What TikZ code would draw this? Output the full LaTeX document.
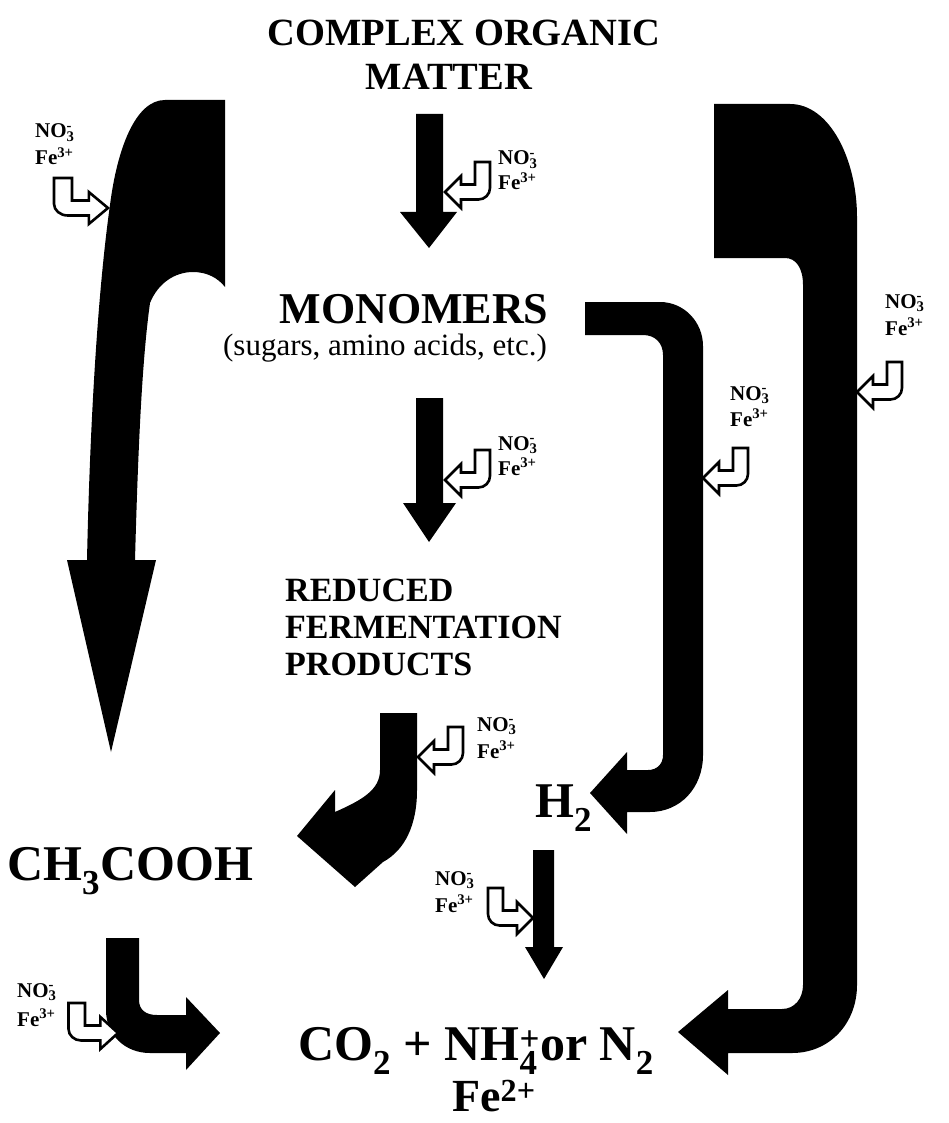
\documentclass[tikz,border=0pt]{standalone}
\usepackage{fontspec}
\setmainfont{Liberation Serif}
\newcommand{\subsup}[2]{\setbox0\hbox{\textsubscript{#1}}\setbox2\hbox{\textsuperscript{#2}}%
  \ifdim\wd0>\wd2 \rlap{\box2}\box0\else\rlap{\box0}\box2\fi}
\newcommand{\nitr}{NO\subsup{3}{-}}
\tikzset{
  blk/.style={fill=black, draw=none},
  hookline/.style={draw=black, line width=2.6pt, fill=white, line join=miter},
  nhook/.pic={
    \draw[hookline] (0,0) -- (16,-16) -- (16,-7.5) -- (30,-7.5) -- (30,-30) -- (45,-30) -- (45,-4)
      .. controls (45,2.3) and (39.8,7.5) .. (33.5,7.5) -- (16,7.5) -- (16,16) -- cycle;
  },
  big/.style={font=\bfseries\fontsize{38.5}{42}\selectfont, inner sep=0pt},
  monof/.style={font=\bfseries\fontsize{44}{48}\selectfont, inner sep=0pt},
  mid/.style={font=\bfseries\fontsize{34}{38}\selectfont, inner sep=0pt},
  huge/.style={font=\bfseries\fontsize{50}{54}\selectfont, inner sep=0pt},
  femid/.style={font=\bfseries\fontsize{46}{50}\selectfont, inner sep=0pt},
  small/.style={font=\bfseries\fontsize{21}{23}\selectfont, inner sep=0pt, anchor=base west},
  paren/.style={font=\fontsize{31}{33}\selectfont, inner sep=0pt}
}
\begin{document}
\begin{tikzpicture}[x=1pt,y=-1pt]
\useasboundingbox (0,0) rectangle (948,1123);

% ---------- text ----------
\node[big, anchor=base] (com) at (464,46) {COMPLEX ORGANIC};
\node[big, anchor=base] (mat) at (449,90) {MATTER};
\node[monof, anchor=base] (mono) at (414,323) {MONOMERS};
\node[paren, anchor=base] (sug) at (385,355) {(sugars, amino acids, etc.)};
\node[mid, anchor=base west] (red1) at (285,601) {REDUCED};
\node[mid, anchor=base west] (red2) at (285,638) {FERMENTATION};
\node[mid, anchor=base west] (red3) at (285,675) {PRODUCTS};
\node[huge, anchor=base west] (ace) at (7,880) {CH\textsubscript{3}COOH};
\node[huge, anchor=base west] (hyd) at (535,817) {H\textsubscript{2}};
\node[huge, anchor=base west] (co2) at (298,1060) {CO\textsubscript{2} + NH\subsup{4}{+}or N\textsubscript{2}};
\node[femid, anchor=base west] (fe) at (452,1111) {Fe\textsuperscript{2+}};

% ---------- big arrows ----------
% left: complex organic matter -> acetate
\fill[blk] (225,100) -- (165,100) .. controls (135,100) and (117,150) .. (110,205)
  .. controls (98,290) and (90,420) .. (87,560) -- (67,560) -- (111,752) -- (156,560) -- (135,560)
  .. controls (138,450) and (142,360) .. (150,303) .. controls (158,283) and (175,272) .. (193,272)
  .. controls (207,272) and (218,278) .. (225,287) -- cycle;
% right: complex organic matter -> CO2
\fill[blk] (714,104) -- (790,104) .. controls (830,104) and (857,160) .. (857,217) -- (857,985)
  .. controls (857,1023) and (830,1053) .. (792,1053) -- (728,1053) -- (728,1075) -- (678,1032)
  -- (728,990) -- (728,1009) -- (782,1009) .. controls (795,1009) and (803,998) .. (803,985)
  -- (803,285) .. controls (803,268) and (796,258) .. (785,258) -- (714,258) -- cycle;
% monomers -> H2
\fill[blk] (585,302) -- (660,302) .. controls (684,302) and (703,322) .. (703,346) -- (703,755)
  .. controls (703,788) and (680,812) .. (650,812) -- (627,812) -- (627,834) -- (590,793)
  -- (627,752) -- (627,770) -- (648,770) .. controls (657,770) and (663,764) .. (663,755)
  -- (663,355) .. controls (663,343) and (655,335) .. (643,335) -- (585,335) -- cycle;
% reduced fermentation products -> acetate
\fill[blk] (380,713) -- (417,713) -- (417,790) .. controls (417,825) and (405,850) .. (383,862)
  -- (355,887) -- (297,836) -- (335,790) -- (335,812)
  .. controls (362,800) and (380,790) .. (380,770) -- cycle;
% acetate -> CO2
\fill[blk] (106,938) -- (139,938) -- (139,1000) .. controls (139,1010) and (146,1015) .. (157,1015)
  -- (186,1015) -- (186,997) -- (220,1033) -- (186,1070) -- (186,1053) -- (150,1053)
  .. controls (125,1053) and (106,1035) .. (106,1010) -- cycle;
% straight arrows
\fill[blk] (416,114) -- (443,114) -- (443,212) -- (457,212) -- (429,248) -- (400,212) -- (416,212) -- cycle;
\fill[blk] (416,398) -- (443,398) -- (443,503) -- (456,503) -- (429,542) -- (403,503) -- (416,503) -- cycle;
\fill[blk] (533,850) -- (554,850) -- (554,947) -- (563,947) -- (544,979) -- (525,947) -- (533,947) -- cycle;

% ---------- electron acceptor hooks ----------
\pic[xscale=-1.2] at (108,208) {nhook};
\pic at (445,192) {nhook};
\pic at (445,480) {nhook};
\pic at (703,478) {nhook};
\pic at (857,392) {nhook};
\pic at (418,757) {nhook};
\pic[xscale=-1] at (533,918) {nhook};
\pic[xscale=-1.1] at (118,1033) {nhook};

% ---------- labels ----------
\node[small] (n1) at (35,138) {\nitr};
\node[small] (f1) at (35,165) {Fe\textsuperscript{3+}};
\node[small] (n2) at (498,165) {\nitr};
\node[small] (f2) at (498,190) {Fe\textsuperscript{3+}};
\node[small] (n3) at (498,450) {\nitr};
\node[small] (f3) at (498,475) {Fe\textsuperscript{3+}};
\node[small] (n4) at (730,400) {\nitr};
\node[small] (f4) at (730,426) {Fe\textsuperscript{3+}};
\node[small] (n5) at (885,308) {\nitr};
\node[small] (f5) at (885,335) {Fe\textsuperscript{3+}};
\node[small] (n6) at (477,731) {\nitr};
\node[small] (f6) at (477,758) {Fe\textsuperscript{3+}};
\node[small] (n7) at (435,885) {\nitr};
\node[small] (f7) at (435,912) {Fe\textsuperscript{3+}};
\node[small] (n8) at (17,997) {\nitr};
\node[small] (f8) at (17,1026) {Fe\textsuperscript{3+}};
\end{tikzpicture}
\end{document}
